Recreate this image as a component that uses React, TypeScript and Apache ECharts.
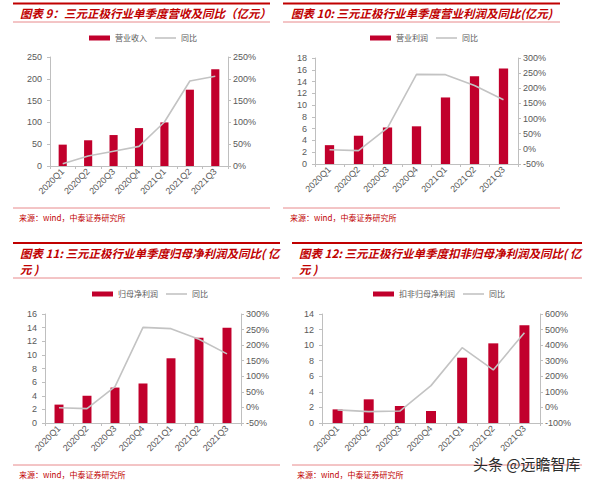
import React, { useEffect, useRef } from "react";
import * as echarts from "echarts";

const categories = ["2020Q1", "2020Q2", "2020Q3", "2020Q4", "2021Q1", "2021Q2", "2021Q3"];

const revenue = [49, 59, 71, 87, 100, 175, 222];
const revenueYoy = [5, 23, 34, 45, 101, 195, 206];

const opProfit = [3.2, 4.8, 6.2, 6.4, 11.3, 14.9, 16.2];
const opProfitYoy = [-3, -6, 69, 246, 245, 209, 162];

const netProfit = [2.7, 4.0, 5.2, 5.8, 9.5, 12.5, 14.0];
const netProfitYoy = [-1, -4, 67, 257, 253, 219, 172];

const deductedProfit = [1.75, 3.04, 2.18, 1.54, 8.39, 10.23, 12.54];
const deductedYoy = [-16, -27, -23, 140, 384, 241, 480];

const barNames = ["营业收入", "营业利润", "归母净利润", "扣非归母净利润"];
const yoyName = "同比";

const leftAxes = [
  { min: 0, max: 250, interval: 50 },
  { min: 0, max: 18, interval: 2 },
  { min: 0, max: 16, interval: 2 },
  { min: 0, max: 14, interval: 2 },
];
const rightAxes = [
  { min: 0, max: 250, interval: 50 },
  { min: -50, max: 300, interval: 50 },
  { min: -50, max: 300, interval: 50 },
  { min: -100, max: 600, interval: 100 },
];

const titles = [
  ["图表 9：三元正极行业单季度营收及同比（亿元）"],
  ["图表 10: 三元正极行业单季度营业利润及同比(亿元)"],
  ["图表 11: 三元正极行业单季度归母净利润及同比( 亿", "元 )"],
  ["图表 12: 三元正极行业单季度扣非归母净利润及同比( 亿", "元 )"],
];
const sourceText = "来源：wind，中泰证券研究所";
const watermark = "头条 @远瞻智库";

const barData = [revenue, opProfit, netProfit, deductedProfit];
const yoyData = [revenueYoy, opProfitYoy, netProfitYoy, deductedYoy];

// layout (pixels)
const grids = [
  { left: 50, top: 57, width: 178, height: 109 },
  { left: 315, top: 58, width: 203, height: 106 },
  { left: 45, top: 314, width: 196, height: 109 },
  { left: 322, top: 314, width: 218, height: 109 },
];
const legendPos = [
  { left: 89, top: 34 },
  { left: 370, top: 34 },
  { left: 92, top: 290 },
  { left: 373, top: 290 },
];
const frames = [
  { x1: 13, x2: 270, top: 3.5, titleLine: 22, bottom: 208, titleX: 20, titleY: 13, srcX: 19, srcY: 217 },
  { x1: 283, x2: 560, top: 3.5, titleLine: 22, bottom: 208, titleX: 291, titleY: 13, srcX: 290, srcY: 217 },
  { x1: 13, x2: 280, top: 243, titleLine: 278, bottom: 465, titleX: 20, titleY: 253, srcX: 19, srcY: 474 },
  { x1: 292, x2: 582, top: 243, titleLine: 278, bottom: 465, titleX: 299, titleY: 253, srcX: 297, srcY: 474 },
];

const BAR_COLOR = "#C1002C";
const LINE_COLOR = "#C3C3C3";
const AXIS_COLOR = "#BFBFBF";
const LABEL_COLOR = "#595959";
const RED = "#C00000";
const CJK = '"Noto Sans CJK SC", sans-serif';
const SANS = '"Liberation Sans", Arial, sans-serif';
const LINE_ICON = "path://M0,0 L21,0 L21,1.6 L0,1.6 Z";

export default function App() {
  const ref = useRef<HTMLDivElement>(null);

  useEffect(() => {
    if (!ref.current) return;
    const chart = echarts.init(ref.current, undefined, { renderer: "svg" });

    const grid: any[] = [];
    const xAxis: any[] = [];
    const yAxis: any[] = [];
    const series: any[] = [];
    const legend: any[] = [];
    const graphic: any[] = [];

    for (let i = 0; i < 4; i++) {
      grid.push({ ...grids[i], containLabel: false });
      xAxis.push({
        type: "category",
        gridIndex: i,
        data: categories,
        boundaryGap: true,
        axisLine: { show: true, lineStyle: { color: AXIS_COLOR, width: 1 } },
        axisTick: { show: true, length: 3, lineStyle: { color: AXIS_COLOR } },
        axisLabel: {
          rotate: 45,
          margin: 4,
          fontSize: 9,
          color: LABEL_COLOR,
          fontFamily: SANS,
          interval: 0,
        },
        splitLine: { show: false },
      });
      yAxis.push({
        type: "value",
        gridIndex: i,
        position: "left",
        ...leftAxes[i],
        axisLine: { show: true, lineStyle: { color: AXIS_COLOR } },
        axisTick: { show: true, length: 3, lineStyle: { color: AXIS_COLOR } },
        axisLabel: { fontSize: 9, color: LABEL_COLOR, fontFamily: SANS, margin: 8 },
        splitLine: { show: false },
      });
      yAxis.push({
        type: "value",
        gridIndex: i,
        position: "right",
        ...rightAxes[i],
        axisLine: { show: true, lineStyle: { color: AXIS_COLOR } },
        axisTick: { show: true, length: 3, lineStyle: { color: AXIS_COLOR } },
        axisLabel: { fontSize: 9, color: LABEL_COLOR, fontFamily: SANS, margin: 5, formatter: "{value}%" },
        splitLine: { show: false },
      });
      series.push({
        name: barNames[i],
        type: "bar",
        xAxisIndex: i,
        yAxisIndex: 2 * i,
        data: barData[i],
        barWidth: "32%",
        itemStyle: { color: BAR_COLOR },
      });
      series.push({
        name: yoyName,
        type: "line",
        xAxisIndex: i,
        yAxisIndex: 2 * i + 1,
        data: yoyData[i],
        symbol: "none",
        lineStyle: { color: LINE_COLOR, width: 1.6 },
        itemStyle: { color: LINE_COLOR },
        z: 3,
      });
      legend.push({
        ...legendPos[i],
        padding: 0,
        itemWidth: 21,
        itemHeight: 5,
        itemGap: 8,
        selectedMode: false,
        textStyle: { fontSize: 8, color: LABEL_COLOR, fontFamily: CJK },
        data: [
          { name: barNames[i], icon: "rect" },
          { name: yoyName, icon: LINE_ICON, itemStyle: { color: LINE_COLOR } },
        ],
      });

      const f = frames[i];
      graphic.push({
        type: "line",
        shape: { x1: f.x1, y1: f.top, x2: f.x2, y2: f.top },
        style: { stroke: RED, lineWidth: 2 },
      });
      graphic.push({
        type: "line",
        shape: { x1: f.x1, y1: f.titleLine, x2: f.x2, y2: f.titleLine },
        style: { stroke: "#E88A8C", lineWidth: 1 },
      });
      graphic.push({
        type: "line",
        shape: { x1: f.x1, y1: f.bottom, x2: f.x2, y2: f.bottom },
        style: { stroke: "#E88A8C", lineWidth: 1 },
      });
      titles[i].forEach((t, k) => {
        graphic.push({
          type: "text",
          x: f.titleX,
          y: f.titleY + k * 16,
          style: {
            text: t,
            fill: RED,
            fontSize: 11.5,
            fontWeight: "bold",
            fontStyle: "italic",
            fontFamily: CJK,
            verticalAlign: "middle",
          },
        });
      });
      graphic.push({
        type: "text",
        x: f.srcX,
        y: f.srcY,
        style: {
          text: sourceText,
          fill: RED,
          fontSize: 8,
          fontFamily: CJK,
          verticalAlign: "middle",
        },
      });
    }

    graphic.push({
      type: "text",
      x: 473,
      y: 463,
      z: 100,
      style: {
        text: watermark,
        fill: "#2B2B2B",
        fontSize: 15,
        fontFamily: CJK,
        verticalAlign: "middle",
      },
    });

    chart.setOption({
      animation: false,
      backgroundColor: "#ffffff",
      grid,
      xAxis,
      yAxis,
      series,
      legend,
      graphic,
    });

    return () => chart.dispose();
  }, []);

  return (
    <div
      ref={ref}
      style={{ position: "absolute", left: 0, top: 0, width: 600, height: 483, background: "#fff" }}
    />
  );
}
